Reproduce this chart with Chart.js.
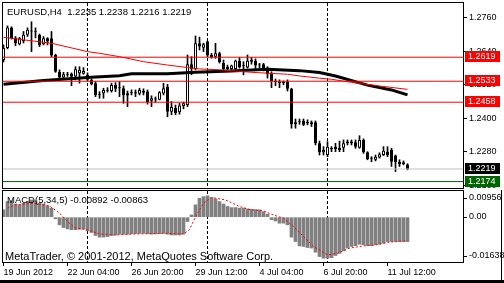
<!DOCTYPE html>
<html>
<head>
<meta charset="utf-8">
<script src="https://cdn.jsdelivr.net/npm/chart.js@4.4.1/dist/chart.umd.min.js"></script>
<style>
    html, body { margin: 0; padding: 0; background: #fff; }
    #wrap { position: relative; width: 504px; height: 283px; overflow: hidden; }
    canvas { position: absolute; left: 0; }
    #priceChart { top: 0; }
    #macdChart { top: 190px; }
</style>
</head>
<body>
<div id="wrap">
    <canvas id="priceChart" width="504" height="190"></canvas>
    <canvas id="macdChart" width="504" height="93"></canvas>
</div>
<script>
var SYMBOL = 'EURUSD,H4';
var TIME_TICKS = [0, 16, 32, 48, 64, 80, 96];
var TIME_LABELS = ['19 Jun 2012', '22 Jun 04:00', '26 Jun 20:00', '29 Jun 12:00', '4 Jul 04:00', '6 Jul 20:00', '11 Jul 12:00'];
var SEPARATORS = [21, 51, 81];          // week starts
var PRICE_TICKS = [1.2160, 1.2280, 1.2400, 1.2520, 1.2640, 1.2760];
var LEVELS = [1.2619, 1.2533, 1.2458];  // red horizontal lines
var BID = 1.2219;
var ASK = 1.2174;

var OPEN = [1.2609,1.2652,1.2725,1.2689,1.2665,1.2677,1.2699,1.2711,1.2713,1.2699,
    1.2665,1.2687,1.2687,1.2627,1.2567,1.2546,1.2560,1.2560,1.2550,1.2562,
    1.2560,1.2556,1.2538,1.2526,1.2488,1.2490,1.2502,1.2498,1.2520,1.2511,
    1.2508,1.2490,1.2493,1.2494,1.2488,1.2498,1.2496,1.2463,1.2471,1.2467,
    1.2489,1.2513,1.2424,1.2437,1.2422,1.2444,1.2448,1.2594,1.2577,1.2669,
    1.2653,1.2675,1.2627,1.2621,1.2633,1.2598,1.2585,1.2577,1.2577,1.2606,
    1.2590,1.2582,1.2609,1.2606,1.2592,1.2594,1.2582,1.2562,1.2533,1.2532,
    1.2531,1.2532,1.2506,1.2379,1.2390,1.2391,1.2387,1.2386,1.2386,1.2311,
    1.2279,1.2269,1.2294,1.2299,1.2295,1.2295,1.2317,1.2311,1.2315,1.2295,
    1.2323,1.2279,1.2259,1.2252,1.2260,1.2269,1.2281,1.2287,1.2267,1.2245,
    1.2243,1.2235];
var HIGH = [1.2663,1.2731,1.2728,1.2693,1.2690,1.2711,1.2724,1.2746,1.2724,1.2702,
    1.2693,1.2689,1.2711,1.2630,1.2574,1.2565,1.2565,1.2563,1.2585,1.2585,
    1.2582,1.2563,1.2541,1.2532,1.2496,1.2508,1.2510,1.2526,1.2528,1.2532,
    1.2516,1.2498,1.2502,1.2502,1.2508,1.2506,1.2502,1.2481,1.2477,1.2496,
    1.2526,1.2522,1.2460,1.2448,1.2454,1.2458,1.2627,1.2621,1.2695,1.2691,
    1.2669,1.2677,1.2633,1.2669,1.2637,1.2609,1.2591,1.2591,1.2609,1.2618,
    1.2603,1.2627,1.2618,1.2613,1.2597,1.2597,1.2585,1.2567,1.2541,1.2538,
    1.2534,1.2538,1.2508,1.2398,1.2398,1.2398,1.2395,1.2391,1.2391,1.2319,
    1.2299,1.2317,1.2299,1.2311,1.2319,1.2323,1.2323,1.2323,1.2323,1.2338,
    1.2327,1.2281,1.2263,1.2269,1.2277,1.2299,1.2299,1.2293,1.2269,1.2252,
    1.2248,1.2238];
var LOW = [1.2602,1.2649,1.2684,1.2660,1.2663,1.2670,1.2693,1.2639,1.2688,1.2657,
    1.2663,1.2663,1.2621,1.2565,1.2544,1.2544,1.2550,1.2517,1.2538,1.2526,
    1.2558,1.2534,1.2520,1.2478,1.2472,1.2472,1.2494,1.2494,1.2496,1.2478,
    1.2454,1.2442,1.2484,1.2478,1.2484,1.2484,1.2451,1.2442,1.2458,1.2466,
    1.2484,1.2406,1.2413,1.2413,1.2415,1.2434,1.2442,1.2556,1.2574,1.2645,
    1.2639,1.2621,1.2615,1.2615,1.2598,1.2574,1.2570,1.2575,1.2576,1.2580,
    1.2556,1.2580,1.2594,1.2577,1.2580,1.2570,1.2544,1.2510,1.2517,1.2510,
    1.2520,1.2498,1.2365,1.2365,1.2379,1.2374,1.2377,1.2371,1.2305,1.2269,
    1.2269,1.2263,1.2281,1.2281,1.2281,1.2281,1.2305,1.2305,1.2293,1.2293,
    1.2275,1.2252,1.2245,1.2248,1.2258,1.2267,1.2263,1.2228,1.2210,1.2228,
    1.2234,1.2216];
var CLOSE = [1.2652,1.2725,1.2687,1.2669,1.2687,1.2699,1.2717,1.2712,1.2710,1.2663,
    1.2687,1.2675,1.2625,1.2567,1.2546,1.2558,1.2556,1.2549,1.2576,1.2574,
    1.2570,1.2538,1.2522,1.2484,1.2485,1.2502,1.2499,1.2520,1.2506,1.2508,
    1.2484,1.2482,1.2490,1.2489,1.2502,1.2492,1.2458,1.2472,1.2468,1.2494,
    1.2508,1.2424,1.2441,1.2419,1.2446,1.2454,1.2594,1.2577,1.2669,1.2657,
    1.2665,1.2625,1.2619,1.2633,1.2601,1.2577,1.2577,1.2589,1.2606,1.2583,
    1.2587,1.2606,1.2603,1.2589,1.2589,1.2577,1.2558,1.2534,1.2530,1.2526,
    1.2527,1.2506,1.2379,1.2386,1.2386,1.2377,1.2384,1.2379,1.2311,1.2279,
    1.2287,1.2299,1.2291,1.2291,1.2287,1.2311,1.2311,1.2317,1.2299,1.2323,
    1.2279,1.2255,1.2256,1.2263,1.2272,1.2284,1.2269,1.2245,1.2243,1.2236,
    1.2236,1.2219];

// moving averages, read as [bar, value]
var MA_SLOW = [[0,1.2522],[10,1.2536],[22,1.2547],[29,1.2553],[32,1.2560],[41,1.2560],
    [48,1.2565],[57,1.2570],[66,1.2576],[74,1.2571],[79,1.2564],[83,1.2552],
    [91,1.2519],[97,1.2502],[101,1.2484]];
var MA_FAST = [[0,1.2690],[12,1.2669],[21,1.2639],[24,1.2633],[29,1.2621],[35,1.2603],
    [41,1.2591],[46,1.2582],[49,1.2577],[54,1.2574],[62,1.2565],[71,1.2558],
    [74,1.2552],[79,1.2544],[82,1.2540],[87,1.2529],[94,1.2516],[101,1.2504]];

var MACD_PARAMS = '5,34,5';
var MACD_HIST = [0.0027,0.0057,0.0060,0.0048,0.0045,0.0051,0.0057,0.0063,0.0060,0.0051,
    0.0048,0.0041,0.0033,-0.0006,-0.0028,-0.0038,-0.0043,-0.0046,-0.0046,-0.0044,
    -0.0043,-0.0050,-0.0056,-0.0067,-0.0073,-0.0073,-0.0071,-0.0067,-0.0065,-0.0062,
    -0.0062,-0.0062,-0.0060,-0.0060,-0.0059,-0.0059,-0.0060,-0.0062,-0.0061,-0.0060,
    -0.0059,-0.0062,-0.0065,-0.0065,-0.0065,-0.0062,-0.0016,0.0008,0.0045,0.0069,
    0.0075,0.0078,0.0072,0.0067,0.0057,0.0048,0.0039,0.0035,0.0035,0.0033,
    0.0033,0.0030,0.0029,0.0028,0.0027,0.0020,0.0011,-0.0009,-0.0014,-0.0022,
    -0.0022,-0.0028,-0.0073,-0.0089,-0.0105,-0.0107,-0.0111,-0.0113,-0.0128,-0.0144,
    -0.0150,-0.0150,-0.0148,-0.0140,-0.0132,-0.0123,-0.0113,-0.0107,-0.0104,-0.0099,
    -0.0101,-0.0104,-0.0104,-0.0101,-0.0099,-0.0095,-0.0089,-0.0089,-0.0089,-0.0089,
    -0.0089,-0.00892];
var SIGNAL = [[1,0.0033],[3,0.0045],[7.5,0.0051],[11.5,0.0041],[14,0.0015],[16,-0.0016],
    [18,-0.0040],[21,-0.0046],[24,-0.0061],[28,-0.0065],[32,-0.0062],[36.5,-0.0060],
    [40.5,-0.0059],[45,-0.0061],[46.5,-0.0046],[48,0.0002],[50,0.0051],[52,0.0072],
    [55.5,0.0063],[59,0.0039],[61.7,0.0027],[65,0.0023],[67.5,0.0008],[70,-0.0004],
    [72.5,-0.0034],[75,-0.0071],[77.5,-0.0107],[81,-0.0138],[83.5,-0.0132],[86.5,-0.0113],
    [90,-0.0105],[93,-0.0101],[96.5,-0.0091],[101,-0.00863]];
var MACD_SCALE = [0.00956, 0, -0.01638];

var X_MIN = -0.125,
    X_MAX = 114.875,
    FONT = "'Liberation Sans', Arial, sans-serif";

Chart.defaults.font.family = FONT;
Chart.defaults.font.size = 9;
Chart.defaults.color = '#000';

function pts(list) {
    return list.map(function (p) { return {x: p[0], y: p[1]}; });
}

function flat(v) {
    return [{x: X_MIN, y: v}, {x: X_MAX, y: v}];
}

function noPad(s) {
    s.paddingTop = 0; s.paddingBottom = 0; s.paddingLeft = 0; s.paddingRight = 0;
}

function hline(v, color, order) {
    return {type: 'line', data: flat(v), borderColor: color, borderWidth: 1,
        pointRadius: 0, fill: false, order: order};
}

function separators(chart) {
    var ctx = chart.ctx, a = chart.chartArea, xs = chart.scales.x;
    ctx.save();
    ctx.strokeStyle = '#000';
    ctx.lineWidth = 1;
    ctx.setLineDash([3, 2]);
    SEPARATORS.forEach(function (k) {
        var x = Math.floor(xs.getPixelForValue(k)) + 0.5;
        ctx.beginPath();
        ctx.moveTo(x, a.top);
        ctx.lineTo(x, a.bottom);
        ctx.stroke();
    });
    ctx.restore();
}

function frame(chart) {
    var ctx = chart.ctx, a = chart.chartArea;
    ctx.save();
    ctx.strokeStyle = '#000';
    ctx.lineWidth = 1;
    ctx.strokeRect(a.left - 0.5, a.top - 0.5, a.right - a.left + 1, a.bottom - a.top + 1);
    ctx.restore();
}

var bars = OPEN.map(function (o, i) { return i; });
var last = CLOSE.length - 1;

var priceDecor = {
    id: 'priceDecor',
    beforeDatasetsDraw: function (chart) {
        separators(chart);
    },
    afterDraw: function (chart) {
        var ctx = chart.ctx, ys = chart.scales.y;
        frame(chart);
        ctx.save();
        ctx.textBaseline = 'middle';
        ctx.fillStyle = '#000';
        ctx.font = "9.5px " + FONT;
        ctx.fillText(SYMBOL + '  ' + [OPEN[last], HIGH[last], LOW[last], CLOSE[last]]
            .map(function (v) { return v.toFixed(4); }).join(' '), 7, 12);
        ctx.font = "9px " + FONT;
        var tags = LEVELS.map(function (v) { return [v, '#ff0000']; })
            .concat([[BID, '#000000'], [ASK, '#006400']]);
        tags.forEach(function (t) {
            var y = Math.round(ys.getPixelForValue(t[0]));
            ctx.fillStyle = t[1];
            ctx.fillRect(465, y - 6, 35, 11);
            ctx.fillStyle = '#fff';
            ctx.fillText(t[0].toFixed(4), 468, y);
        });
        ctx.restore();
    }
};

var priceChart = new Chart(document.getElementById('priceChart'), {
    type: 'bar',
    data: {
        datasets: [{
            type: 'bar',
            data: bars.map(function (i) { return {x: i, y: [LOW[i], HIGH[i]]}; }),
            backgroundColor: '#000',
            barThickness: 1,
            grouped: false,
            order: 6
        }, {
            type: 'bar',
            data: bars.map(function (i) { return {x: i, y: [OPEN[i], CLOSE[i]]}; }),
            backgroundColor: bars.map(function (i) { return CLOSE[i] > OPEN[i] ? '#fff' : '#000'; }),
            borderColor: '#000',
            borderWidth: 1,
            borderSkipped: false,
            inflateAmount: 0,
            minBarLength: 1,
            barThickness: 3,
            grouped: false,
            order: 5
        }, {
            type: 'line',
            data: pts(MA_SLOW),
            borderColor: '#000',
            borderWidth: 3,
            pointRadius: 0,
            fill: false,
            order: 4
        }, {
            type: 'line',
            data: pts(MA_FAST),
            borderColor: '#ff0000',
            borderWidth: 1,
            pointRadius: 0,
            fill: false,
            order: 3
        },
            hline(LEVELS[0], '#ff0000', 1),
            hline(LEVELS[1], '#ff0000', 1),
            hline(LEVELS[2], '#ff0000', 1),
            hline(BID, '#c0c0c0', 2),
            hline(ASK, '#006400', 2)
        ]
    },
    options: {
        responsive: false,
        animation: false,
        devicePixelRatio: 1,
        layout: {padding: {left: 3, top: 3, right: 0, bottom: 2}},
        plugins: {legend: {display: false}, tooltip: {enabled: false}},
        scales: {
            x: {
                type: 'linear', display: false, min: X_MIN, max: X_MAX,
                offset: false, grid: {offset: false}
            },
            y: {
                position: 'right',
                min: 1.2151,
                max: 1.2813,
                afterBuildTicks: function (s) {
                    s.ticks = PRICE_TICKS.map(function (v) { return {value: v}; });
                },
                afterFit: function (s) { s.width = 41; noPad(s); },
                ticks: {
                    padding: 2,
                    callback: function (v) { return v.toFixed(4); }
                },
                grid: {drawOnChartArea: false, tickLength: 4, color: '#000'},
                border: {color: '#000'}
            }
        }
    },
    plugins: [priceDecor]
});

var macdDecor = {
    id: 'macdDecor',
    beforeDatasetsDraw: function (chart) {
        separators(chart);
    },
    afterDraw: function (chart) {
        var ctx = chart.ctx, a = chart.chartArea, ys = chart.scales.y;
        frame(chart);
        ctx.save();
        ctx.fillStyle = '#000';
        ctx.strokeStyle = '#000';
        ctx.textBaseline = 'middle';
        ctx.font = "9px " + FONT;
        // MetaTrader keeps the max / min labels inside the window
        var pos = [a.top + 7, Math.round(ys.getPixelForValue(0)), a.bottom - 6];
        MACD_SCALE.forEach(function (v, i) {
            var y = pos[i];
            ctx.beginPath();
            ctx.moveTo(a.right, y + 0.5);
            ctx.lineTo(a.right + 4, y + 0.5);
            ctx.stroke();
            ctx.fillText(v === 0 ? '0.00' : v.toFixed(5), a.right + 6, y);
        });
        ctx.font = "9.5px " + FONT;
        ctx.fillText('MACD(' + MACD_PARAMS + ') ' + MACD_HIST[last].toFixed(5) + ' ' +
            SIGNAL[SIGNAL.length - 1][1].toFixed(5), 7, 10);
        ctx.font = "11px " + FONT;
        ctx.fillText('MetaTrader, \u00a9 2001-2012, MetaQuotes Software Corp.', 5, 67);
        // outer edge of the terminal window
        ctx.fillRect(0, 90, 504, 3);
        ctx.fillRect(501, 0, 1, 93);
        ctx.restore();
    }
};

var macdChart = new Chart(document.getElementById('macdChart'), {
    type: 'bar',
    data: {
        datasets: [{
            type: 'bar',
            data: bars.map(function (i) { return {x: i, y: MACD_HIST[i]}; }),
            backgroundColor: '#808080',
            barThickness: 3,
            grouped: false,
            order: 2
        }, {
            type: 'line',
            data: pts(SIGNAL),
            borderColor: '#ff0000',
            borderWidth: 1,
            borderDash: [2, 2],
            pointRadius: 0,
            fill: false,
            order: 1
        }]
    },
    options: {
        responsive: false,
        animation: false,
        devicePixelRatio: 1,
        layout: {padding: {left: 3, top: 1, right: 0, bottom: 0}},
        plugins: {legend: {display: false}, tooltip: {enabled: false}},
        scales: {
            x: {
                type: 'linear', position: 'bottom', min: X_MIN, max: X_MAX,
                offset: false,
                afterBuildTicks: function (s) {
                    s.ticks = TIME_TICKS.map(function (v) { return {value: v}; });
                },
                afterFit: function (s) { s.height = 21; noPad(s); },
                ticks: {
                    align: 'start',
                    padding: 1,
                    maxRotation: 0,
                    autoSkip: false,
                    callback: function (v, i) { return TIME_LABELS[i]; }
                },
                grid: {drawOnChartArea: false, offset: false, tickLength: 4, color: '#000'},
                border: {color: '#000'}
            },
            y: {
                position: 'right',
                min: MACD_SCALE[2],
                max: MACD_SCALE[0],
                afterFit: function (s) { s.width = 41; noPad(s); },
                ticks: {display: false},
                grid: {drawOnChartArea: false, drawTicks: false},
                border: {color: '#000'}
            }
        }
    },
    plugins: [macdDecor]
});
</script>
</body>
</html>
